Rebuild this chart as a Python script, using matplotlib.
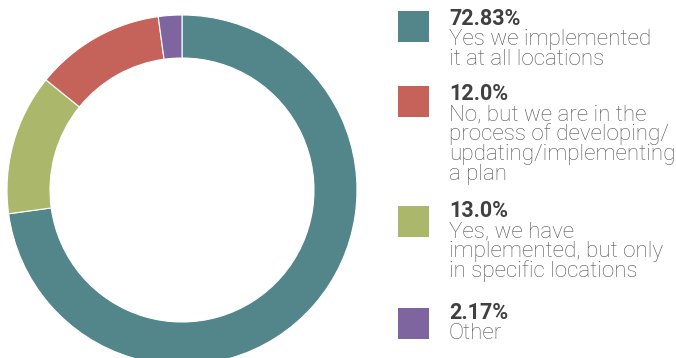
import matplotlib
matplotlib.use("Agg")
import matplotlib.pyplot as plt

# Survey responses (legend order)
values = [72.83, 12.0, 13.0, 2.17]
value_labels = ["72.83%", "12.0%", "13.0%", "2.17%"]
answers = [
    "Yes we implemented\nit at all locations",
    "No, but we are in the\nprocess of developing/\nupdating/implementing\na plan",
    "Yes, we have\nimplemented, but only\nin specific locations",
    "Other",
]
colors = ["#52868A", "#C5635B", "#ABB86C", "#7E65A0"]

# Ring is drawn clockwise from 12 o'clock in this order
ring_order = [0, 2, 1, 3]

W, H = 676, 358
fig = plt.figure(figsize=(W / 100, H / 100), dpi=100)

# Donut: centre (182, 190) px from top-left, outer radius 175 px
cx, cy, R = 182, 190, 175
ax = fig.add_axes([(cx - R) / W, (H - cy - R) / H, 2 * R / W, 2 * R / H])
ax.pie([values[i] for i in ring_order],
       colors=[colors[i] for i in ring_order],
       startangle=90, counterclock=False, radius=1.0,
       wedgeprops=dict(width=43 / 175, edgecolor="white", linewidth=0.8))
ax.set_xlim(-1, 1)
ax.set_ylim(-1, 1)
ax.set_aspect("equal")
ax.axis("off")

# Legend drawn by hand: colour square + bold value + wrapped answer text
square_tops = [11, 86, 206, 308]
first_baselines = [25, 100, 217, 319]
line_step = 20
sq = 31
text_x = 449
for i in range(len(values)):
    fig.patches.append(plt.Rectangle((398 / W, (H - square_tops[i] - sq) / H),
                                     sq / W, sq / H, transform=fig.transFigure,
                                     facecolor=colors[i], edgecolor="none"))
    y = first_baselines[i]
    fig.text(text_x / W, (H - y) / H, value_labels[i], family="Roboto",
             fontweight="bold", fontsize=15.5, color="#404040", va="baseline")
    for line in answers[i].split("\n"):
        y += line_step
        fig.text(text_x / W, (H - y) / H, line, family="Roboto",
                 fontweight="light", fontsize=16.1, color="#555555", va="baseline")

fig.savefig("out.png", dpi=100)
